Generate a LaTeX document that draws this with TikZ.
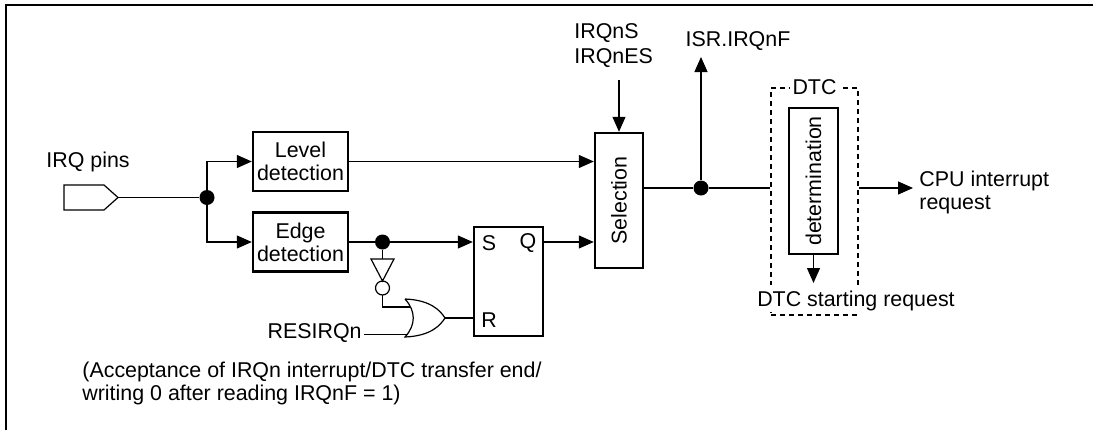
\documentclass[tikz,border=0pt]{standalone}
\usepackage{fontspec}
\setmainfont{Liberation Sans}
\usetikzlibrary{arrows.meta}

\tikzset{
	every node/.style={font=\fontsize{10.7}{11.5}\selectfont},
	blk/.style={draw, line width=1.2pt, inner sep=0pt, align=center},
	wire/.style={line width=0.6pt},
	sig/.style={wire, -{Triangle[length=7.5pt,width=6.5pt]}},
	dot/.style={circle, fill, inner sep=0pt, minimum size=7.5pt},
	lbl/.style={inner sep=0pt, align=left},
}

\begin{document}
\begin{tikzpicture}[x=0.5pt, y=-0.5pt]
	\useasboundingbox (0,0) rectangle (1093,429);
	% frame
	\draw [line width=1pt] (5.5,432) -- (5.5,5) -- (1096,5);

	% input pin
	\draw [wire] (64,185) -- (104,185) -- (118,197.5) -- (104,210) -- (64,210) -- cycle;
	\coordinate (pin) at (118,197.5);
	\node [lbl] (pinlbl) at (88,162) {IRQ pins};
	\node [dot] (j1) at (207,197.5) {};

	% detection blocks
	\node [blk, minimum width=47.5pt, minimum height=29.5pt] (level) at (300.5,161.5) {Level\\detection};
	\node [blk, minimum width=47.5pt, minimum height=29.5pt] (edge) at (300.5,242) {Edge\\detection};
	\draw [wire] (pin) -- (j1);
	\draw [sig] (j1) |- (level.west);
	\draw [sig] (j1) |- (edge.west);

	% selection
	\node [blk, minimum width=24pt, minimum height=67.5pt] (sel) at (619,200.5) {};
	\node [rotate=90] (sellbl) at (sel.center) {Selection};
	\node [lbl, anchor=west] (irqs) at (574,46) {IRQnS\\[1pt]IRQnES};
	\coordinate (irqsarr) at (619,80);
	\draw [sig] (irqsarr) -- (sel.north);
	\draw [sig] (level.east) -- (level.east -| sel.west);

	% flip-flop
	\node [blk, minimum width=34.5pt, minimum height=54.5pt] (sr) at (508.5,281.5) {};
	\node [lbl] (srs) at (489,243) {S};
	\node [lbl] (srq) at (528,243) {Q};
	\node [lbl] (srr) at (489,320) {R};
	\node [dot] (j2) at (382.5,242) {};
	\draw [wire] (edge.east |- j2) -- (j2);
	\draw [sig] (j2) -- (j2 -| sr.west);
	\draw [sig] (sr.east |- j2) -- (sel.west |- j2);

	% inverter
	\draw [wire] (371,259) -- (394,259) -- (382.5,281) -- cycle;
	\draw [wire] (382.5,288) circle [radius=3.5pt];
	\draw [wire] (j2) -- (382.5,259);

	% or gate
	\draw [wire] (405,299) .. controls (430,300) and (440,310) .. (445,318)
		.. controls (440,326) and (430,336) .. (405,337)
		.. controls (416,325) and (416,311) .. (405,299);
	\coordinate (or1) at (410,307);
	\coordinate (or2) at (408,334.5);
	\coordinate (orout) at (445,318);
	\draw [wire] (382.5,295) |- (or1);
	\node [lbl, anchor=east] (res) at (362,333.5) {RESIRQn};
	\draw [wire] (res.east |- or2) ++(2,0) -- (or2);
	\draw [wire] (orout) -- (orout -| sr.west);

	% note
	\node [lbl, anchor=west] (note) at (82,383) {(Acceptance of IRQn interrupt/DTC transfer end/\\writing 0 after reading IRQnF = 1)};

	% flag
	\node [dot] (j3) at (701,188) {};
	\node [lbl] (isr) at (738,41) {ISR.IRQnF};
	\coordinate (isrtip) at (701,57);
	\draw [wire] (sel.east |- j3) -- (j3);
	\draw [sig] (j3) -- (isrtip);

	% DTC
	\node [draw, wire, dash pattern=on 2.5pt off 2pt, minimum width=43.5pt, minimum height=113.5pt] (dtc) at (814.5,201.5) {};
	\node [fill=white, inner sep=1.5pt] (dtclbl) at (dtc.north) {DTC};
	\node [blk, minimum width=24.5pt, minimum height=73pt] (det) at (813.5,181) {};
	\node [rotate=90] (detlbl) at (det.center) {determination};
	\node [fill=white, inner xsep=1pt, inner ysep=1pt, text height=9.5pt, anchor=base] (dtcreq) at (856,306) {DTC starting request};
	\coordinate (dettip) at (813.5,283);
	\draw [sig] (det.south) -- (dettip);
	\draw [wire] (j3) -- (j3 -| dtc.west);

	% cpu request
	\coordinate (cputip) at (913,188);
	\draw [sig] (dtc.east |- j3) -- (cputip);
	\node [lbl, anchor=west] (cpu) at (919,192.5) {CPU interrupt\\request};
\end{tikzpicture}
\end{document}
